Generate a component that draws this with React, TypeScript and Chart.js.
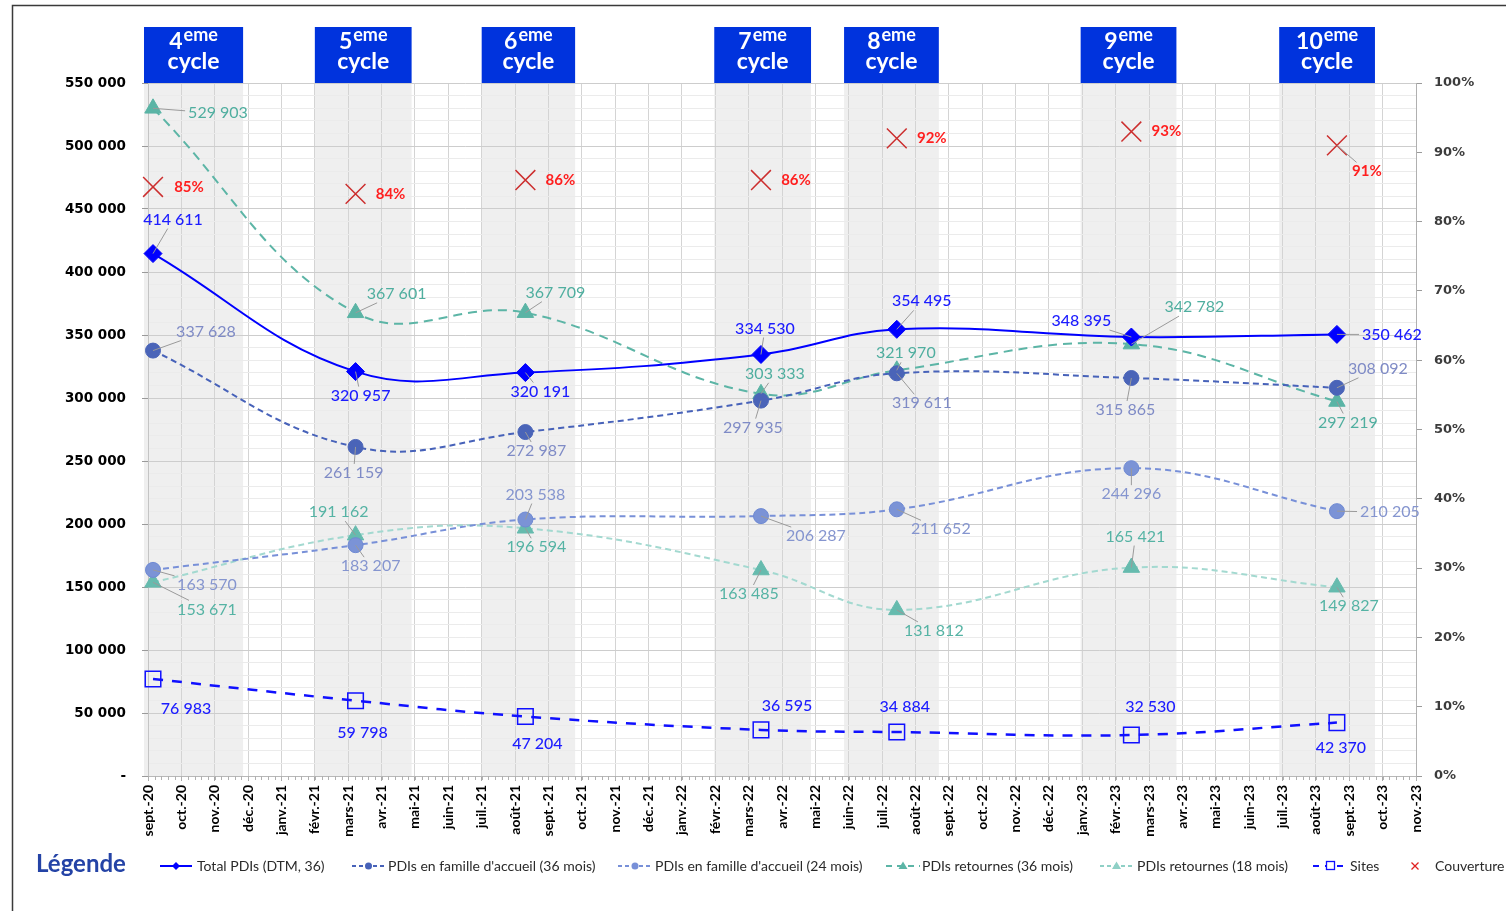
import React, { useEffect, useRef } from 'react';
import { Chart, registerables } from 'chart.js';

Chart.register(...registerables);

// ---------- DATA ----------
const MONTHS = [
  'sept.-20', 'oct.-20', 'nov.-20', 'déc.-20', 'janv.-21', 'févr.-21', 'mars-21', 'avr.-21', 'mai-21',
  'juin-21', 'juil.-21', 'août-21', 'sept.-21', 'oct.-21', 'nov.-21', 'déc.-21', 'janv.-22', 'févr.-22',
  'mars-22', 'avr.-22', 'mai-22', 'juin-22', 'juil.-22', 'août-22', 'sept.-22', 'oct.-22', 'nov.-22',
  'déc.-22', 'janv.-23', 'févr.-23', 'mars-23', 'avr.-23', 'mai-23', 'juin-23', 'juil.-23', 'août-23',
  'sept.-23', 'oct.-23', 'nov.-23',
];
const CYCLES = ['4', '5', '6', '7', '8', '9', '10'];
// collection dates, expressed in months since sept.-20
const CYCLE_X = [0.15, 6.22, 11.31, 18.37, 22.44, 29.47, 35.63];
const BAND_START = [-0.12, 5.0, 10.0, 16.97, 20.86, 27.95, 33.9];
const BAND_END = [2.85, 7.9, 12.8, 19.87, 23.7, 30.82, 36.77];

const TOTAL = [414611, 320957, 320191, 334530, 354495, 348395, 350462];
const FAM36 = [337628, 261159, 272987, 297935, 319611, 315865, 308092];
const FAM24 = [163570, 183207, 203538, 206287, 211652, 244296, 210205];
const RET36 = [529903, 367601, 367709, 303333, 321970, 342782, 297219];
const RET18 = [153671, 191162, 196594, 163485, 131812, 165421, 149827];
const SITES = [76983, 59798, 47204, 36595, 34884, 32530, 42370];
const COUV = [85, 84, 86, 86, 92, 93, 91];

const Y_TICKS_MAX = 550000;

// ---------- LABEL LAYOUT (pixel offsets of label centre from its point) ----------
const OFF_TOTAL = [[20, -34], [5, 24], [15, 19], [4, -26], [25, -28], [-50, -16], [55, 0]];
const OFF_FAM36 = [[53, -19], [-2, 26], [11, 19], [-8, 27], [25, 30], [-6, 32], [41, -19]];
const OFF_FAM24 = [[54, 15], [15, 21], [10, -25], [55, 20], [44, 20], [0, 26], [53, 1]];
const OFF_RET36 = [[65, 5], [41, -19], [30, -20], [14, -20], [9, -17], [63, -37], [11, 21]];
const OFF_RET18 = [[54, 27], [-17, -23], [11, 19], [-12, 24], [37, 21], [4, -31], [12, 19]];
const OFF_SITES = [[33, 30], [7, 32], [12, 27], [26, -24], [8, -25], [19, -28], [4, 25]];
const OFF_COUV = [[36, 0], [35, 0], [35, 0], [35, 0], [35, 0], [35, 0], [30, 26]];
const LEADER_COUV = [0, 0, 0, 0, 0, 0, 1];

const FONT = 'Lato, "Open Sans", sans-serif';
const TICK_FONT = '"DejaVu Sans", Lato, sans-serif';

const numFmt = (v: number) => Math.round(v).toString().replace(/\B(?=(\d{3})+(?!\d))/g, ' ');
const pts = (vals: number[]) => vals.map((v, i) => ({ x: CYCLE_X[i], y: v }));

type LabelCfg = {
  offsets: number[][];
  color: string;
  font: string;
  fmt: (v: number) => string;
  leader: (i: number) => boolean;
  values: number[];
};

const LABELS: LabelCfg[] = [
  { values: TOTAL, offsets: OFF_TOTAL, color: '#1c1cff', font: `500 16px ${FONT}`, fmt: numFmt, leader: () => true },
  { values: FAM36, offsets: OFF_FAM36, color: '#7f8bc6', font: `16px ${FONT}`, fmt: numFmt, leader: () => true },
  { values: FAM24, offsets: OFF_FAM24, color: '#8595cf', font: `16px ${FONT}`, fmt: numFmt, leader: () => true },
  { values: RET36, offsets: OFF_RET36, color: '#4fae9f', font: `16px ${FONT}`, fmt: numFmt, leader: () => true },
  { values: RET18, offsets: OFF_RET18, color: '#55b3a4', font: `16px ${FONT}`, fmt: numFmt, leader: () => true },
  { values: SITES, offsets: OFF_SITES, color: '#1c1cff', font: `500 16px ${FONT}`, fmt: numFmt, leader: () => false },
  { values: COUV, offsets: OFF_COUV, color: '#ff1f1f', font: `bold 15px ${FONT}`, fmt: (v) => `${v}%`, leader: (i) => LEADER_COUV[i] === 1 },
];

const LEGEND_ITEMS = [
  { x0: 160, x1: 192, tx: 197, text: 'Total PDIs (DTM, 36)', color: '#0000ff', dash: [] as number[], marker: 'diamond' },
  { x0: 352, x1: 385, tx: 388, text: "PDIs en famille d'accueil (36 mois)", color: '#4762b9', dash: [4, 3], marker: 'circle' },
  { x0: 618, x1: 652, tx: 655, text: "PDIs en famille d'accueil (24 mois)", color: '#7890d8', dash: [4, 3], marker: 'circle' },
  { x0: 886, x1: 920, tx: 922, text: 'PDIs retournes (36 mois)', color: '#5cb5a6', dash: [6, 5], marker: 'triangle' },
  { x0: 1100, x1: 1133, tx: 1137, text: 'PDIs retournes (18 mois)', color: '#8fd0c6', dash: [4, 3], marker: 'triangle' },
  { x0: 1313, x1: 1347, tx: 1350, text: 'Sites', color: '#1010ff', dash: [6, 6], marker: 'square' },
  { x0: 1408, x1: 1422, tx: 1435, text: 'Couverture', color: '#e02020', dash: [], marker: 'x' },
];

const decorPlugin = {
  id: 'decor',
  beforeDraw(chart: any) {
    const { ctx, chartArea: a } = chart;
    const x = chart.scales.x;
    ctx.save();
    ctx.fillStyle = '#ffffff';
    ctx.fillRect(0, 0, chart.width, chart.height);
    // frame
    ctx.strokeStyle = '#3a3a3a';
    ctx.lineWidth = 1.5;
    ctx.beginPath();
    ctx.moveTo(12.5, chart.height);
    ctx.lineTo(12.5, 5.5);
    ctx.lineTo(chart.width, 5.5);
    ctx.stroke();
    // cycle bands + header boxes
    for (let i = 0; i < CYCLES.length; i++) {
      const x0 = x.getPixelForValue(BAND_START[i]);
      const x1 = x.getPixelForValue(BAND_END[i]);
      ctx.fillStyle = '#efefef';
      ctx.fillRect(x0, a.top, x1 - x0, a.bottom - a.top);
      ctx.fillStyle = '#0033dd';
      ctx.fillRect(x0, 27, x1 - x0, a.top - 27);
      const cx = (x0 + x1) / 2;
      ctx.fillStyle = '#ffffff';
      ctx.textBaseline = 'alphabetic';
      ctx.textAlign = 'left';
      ctx.font = `bold 23px ${FONT}`;
      const wNum = ctx.measureText(CYCLES[i]).width;
      ctx.font = `bold 18px ${FONT}`;
      const wSup = ctx.measureText('eme').width;
      const sx = cx - (wNum + wSup + 1) / 2;
      ctx.font = `bold 23px ${FONT}`;
      ctx.fillText(CYCLES[i], sx, 49);
      ctx.font = `bold 18px ${FONT}`;
      ctx.fillText('eme', sx + wNum + 1, 41);
      ctx.font = `bold 23px ${FONT}`;
      ctx.textAlign = 'center';
      ctx.fillText('cycle', cx, 69);
    }
    ctx.restore();
  },
  afterDatasetsDraw(chart: any) {
    const { ctx, chartArea: a } = chart;
    const x = chart.scales.x;
    ctx.save();
    // minor ticks on the date axis
    ctx.strokeStyle = '#b0b0b0';
    ctx.lineWidth = 1;
    ctx.beginPath();
    for (let m = 0; m <= MONTHS.length - 1 + 1e-6; m += 0.2) {
      const px = Math.round(x.getPixelForValue(m)) + 0.5;
      ctx.moveTo(px, a.bottom);
      ctx.lineTo(px, a.bottom + 4);
    }
    ctx.stroke();

    // data labels
    LABELS.forEach((cfg, di) => {
      const meta = chart.getDatasetMeta(di);
      meta.data.forEach((pt: any, i: number) => {
        const [dx, dy] = cfg.offsets[i];
        const tx = pt.x + dx;
        const ty = pt.y + dy;
        const text = cfg.fmt(cfg.values[i]);
        ctx.font = cfg.font;
        const w = ctx.measureText(text).width;
        const h = 14;
        if (cfg.leader(i)) {
          const vx = pt.x - tx;
          const vy = pt.y - ty;
          const hw = w / 2 + 3;
          const hh = h / 2 + 2;
          const t = Math.min(vx !== 0 ? hw / Math.abs(vx) : Infinity, vy !== 0 ? hh / Math.abs(vy) : Infinity);
          if (t < 1) {
            const ex = tx + vx * t;
            const ey = ty + vy * t;
            if (Math.hypot(pt.x - ex, pt.y - ey) > 9) {
              ctx.strokeStyle = '#9a9a9a';
              ctx.lineWidth = 1;
              ctx.setLineDash([]);
              ctx.beginPath();
              ctx.moveTo(pt.x, pt.y);
              ctx.lineTo(ex, ey);
              ctx.stroke();
            }
          }
        }
        ctx.fillStyle = cfg.color;
        ctx.textAlign = 'center';
        ctx.textBaseline = 'middle';
        ctx.fillText(text, tx, ty);
      });
    });
    ctx.restore();
  },
  afterDraw(chart: any) {
    const { ctx } = chart;
    ctx.save();
    const cy = 866;
    ctx.fillStyle = '#2443a6';
    ctx.font = `bold 24px ${FONT}`;
    ctx.textAlign = 'left';
    ctx.textBaseline = 'middle';
    ctx.fillText('Légende', 36, cy - 2);
    for (const it of LEGEND_ITEMS) {
      if (it.marker !== 'x') {
        ctx.strokeStyle = it.color;
        ctx.lineWidth = 2;
        ctx.setLineDash(it.dash);
        ctx.beginPath();
        ctx.moveTo(it.x0, cy);
        ctx.lineTo(it.x1, cy);
        ctx.stroke();
        ctx.setLineDash([]);
      }
      const mx = (it.x0 + it.x1) / 2;
      ctx.fillStyle = it.color;
      ctx.strokeStyle = it.color;
      ctx.lineWidth = 1.3;
      ctx.beginPath();
      if (it.marker === 'diamond') {
        ctx.moveTo(mx - 4, cy); ctx.lineTo(mx, cy - 4); ctx.lineTo(mx + 4, cy); ctx.lineTo(mx, cy + 4); ctx.closePath(); ctx.fill();
      } else if (it.marker === 'circle') {
        ctx.arc(mx, cy, 3.5, 0, Math.PI * 2); ctx.fill();
      } else if (it.marker === 'triangle') {
        ctx.moveTo(mx, cy - 4.5); ctx.lineTo(mx + 4.5, cy + 3); ctx.lineTo(mx - 4.5, cy + 3); ctx.closePath(); ctx.fill();
      } else if (it.marker === 'square') {
        ctx.fillStyle = '#ffffff';
        ctx.fillRect(mx - 4, cy - 4, 8, 8);
        ctx.strokeRect(mx - 3.5, cy - 4.5, 8, 8);
      } else if (it.marker === 'x') {
        ctx.moveTo(mx - 3.5, cy - 3.5); ctx.lineTo(mx + 3.5, cy + 3.5);
        ctx.moveTo(mx + 3.5, cy - 3.5); ctx.lineTo(mx - 3.5, cy + 3.5);
        ctx.stroke();
      }
      ctx.fillStyle = '#2a2a2a';
      ctx.font = `14px ${FONT}`;
      ctx.textAlign = 'left';
      ctx.fillText(it.text, it.tx, cy);
    }
    ctx.restore();
  },
};

export default function App() {
  const ref = useRef<HTMLCanvasElement | null>(null);

  useEffect(() => {
    if (!ref.current) return;
    Chart.defaults.font.family = FONT;
    const lineBase = { tension: 0.4, borderWidth: 2, pointBorderWidth: 1, yAxisID: 'y', clip: false as any };
    const chart = new Chart(ref.current, {
      type: 'line',
      data: {
        datasets: [
          { ...lineBase, label: 'Total PDIs (DTM, 36)', data: pts(TOTAL), borderColor: '#0000ff', backgroundColor: '#0000ff', pointBackgroundColor: '#0000ff', pointBorderColor: '#0000ff', pointStyle: 'rectRot', pointRadius: 9 },
          { ...lineBase, label: "PDIs en famille d'accueil (36 mois)", data: pts(FAM36), borderColor: '#4762b9', borderDash: [6, 4], pointBackgroundColor: '#4a64b8', pointBorderColor: '#4a64b8', pointStyle: 'circle', pointRadius: 7.5 },
          { ...lineBase, label: "PDIs en famille d'accueil (24 mois)", data: pts(FAM24), borderColor: '#7890d8', borderDash: [6, 4], pointBackgroundColor: '#7b93d6', pointBorderColor: '#6f8ad4', pointStyle: 'circle', pointRadius: 7.5 },
          { ...lineBase, label: 'PDIs retournes (36 mois)', data: pts(RET36), borderColor: '#5cb5a6', borderDash: [9, 6], pointBackgroundColor: '#5ab4a5', pointBorderColor: '#5ab4a5', pointStyle: 'triangle', pointRadius: 9.5 },
          { ...lineBase, label: 'PDIs retournes (18 mois)', data: pts(RET18), borderColor: '#a3d9d0', borderDash: [6, 4], pointBackgroundColor: '#66bbae', pointBorderColor: '#66bbae', pointStyle: 'triangle', pointRadius: 9.5 },
          { ...lineBase, label: 'Sites', data: pts(SITES), borderColor: '#1010ff', borderDash: [10, 9], borderWidth: 2.5, pointBackgroundColor: 'rgba(255,255,255,0)', pointBorderColor: '#1010ff', pointBorderWidth: 1.5, pointStyle: 'rect', pointRadius: 11 },
          { label: 'Couverture', data: pts(COUV), yAxisID: 'y1', showLine: false, pointStyle: 'crossRot', pointRadius: 14, pointBorderColor: '#cc2e2e', pointBackgroundColor: '#cc2e2e', pointBorderWidth: 1.5, clip: false as any },
        ] as any,
      },
      options: {
        animation: false,
        responsive: false,
        maintainAspectRatio: false,
        layout: { padding: { top: 83, left: 0, right: 0, bottom: 0 } },
        plugins: { legend: { display: false }, tooltip: { enabled: false } },
        elements: { point: { hoverRadius: 0 } as any },
        scales: {
          x: {
            type: 'linear',
            min: 0,
            max: MONTHS.length - 1,
            afterFit: (s: any) => { s.height = 135; },
            ticks: {
              stepSize: 1,
              autoSkip: false,
              maxTicksLimit: 1000,
              minRotation: 90,
              maxRotation: 90,
              padding: 4,
              color: '#000000',
              font: { size: 14, weight: 'bold', family: FONT },
              callback: (v: any) => MONTHS[Math.round(Number(v))] ?? '',
            },
            grid: { color: '#d4d4d4', tickLength: 5, tickColor: '#a8a8a8' },
            border: { color: '#b8b8b8' },
          },
          y: {
            type: 'linear',
            position: 'left',
            min: 0,
            max: Y_TICKS_MAX,
            afterFit: (s: any) => { s.width = 148; },
            ticks: {
              stepSize: 10000,
              maxTicksLimit: 1000,
              autoSkip: false,
              padding: 16,
              color: '#000000',
              font: { size: 13.5, weight: 'bold', family: TICK_FONT },
              callback: (v: any) => {
                const n = Number(v);
                if (n % 50000 !== 0) return '';
                return n === 0 ? '-' : numFmt(n);
              },
            },
            grid: {
              color: (c: any) => (c.tick && c.tick.value % 50000 === 0 ? '#cdcdcd' : '#ebebeb'),
              tickColor: (c: any) => (c.tick && c.tick.value % 50000 === 0 ? '#9a9a9a' : 'rgba(0,0,0,0)'),
              tickLength: 6,
            },
            border: { color: '#c4c4c4' },
          },
          y1: {
            type: 'linear',
            position: 'right',
            min: 0,
            max: 100,
            afterFit: (s: any) => { s.width = 90; },
            ticks: {
              stepSize: 10,
              padding: 12,
              color: '#3c3c3c',
              font: { size: 13, weight: 'bold', family: TICK_FONT },
              callback: (v: any) => `${v}%`,
            },
            grid: { drawOnChartArea: false, tickLength: 6, tickColor: '#9a9a9a' },
            border: { color: '#b0b0b0' },
          },
        } as any,
      },
      plugins: [decorPlugin],
    });
    return () => chart.destroy();
  }, []);

  return (
    <div style={{ position: 'absolute', left: 0, top: 0, width: 1506, height: 911, background: '#fff' }}>
      <canvas ref={ref} width={1506} height={911} style={{ display: 'block', width: 1506, height: 911 }} />
    </div>
  );
}
